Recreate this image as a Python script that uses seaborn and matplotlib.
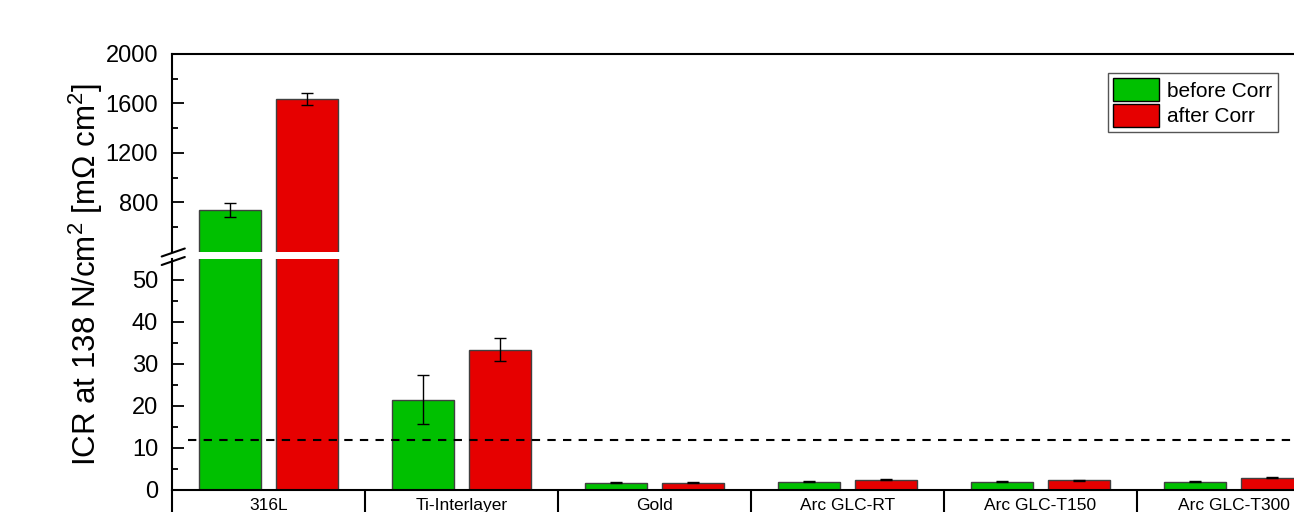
import matplotlib
matplotlib.use("Agg")
import matplotlib.pyplot as plt
import numpy as np
import pandas as pd
import seaborn as sns
from matplotlib.lines import Line2D
from matplotlib.patches import Patch

# ICR values (mOhm cm^2) at 138 N/cm^2 with standard deviations
categories = ["316L", "Ti-Interlayer", "Gold", "Arc GLC-RT", "Arc GLC-T150", "Arc GLC-T300"]
series_labels = ["before Corr", "after Corr"]
before_corr = [738, 21.5, 1.75, 2.0, 2.0, 2.0]
before_err = [59, 5.9, 0.1, 0.05, 0.05, 0.05]
after_corr = [1636, 33.4, 1.75, 2.5, 2.3, 2.9]
after_err = [46, 2.8, 0.1, 0.1, 0.1, 0.1]
target_icr = 12  # target level drawn as dashed line

lower_ticks = [0, 10, 20, 30, 40, 50]
lower_minor = [5, 15, 25, 35, 45]
upper_ticks = [800, 1200, 1600, 2000]
upper_minor = [600, 1000, 1400, 1800]

palette = {"before Corr": "#00C000", "after Corr": "#E60000"}

df = pd.DataFrame({
    "category": categories * 2,
    "series": [series_labels[0]] * len(categories) + [series_labels[1]] * len(categories),
    "icr": before_corr + after_corr,
    "err": before_err + after_err,
})

sns.set_style("white")
plt.rcParams["font.family"] = ["Liberation Sans", "DejaVu Sans"]
plt.rcParams["mathtext.fontset"] = "custom"
plt.rcParams["mathtext.rm"] = "Liberation Sans"
plt.rcParams["mathtext.it"] = "Liberation Sans:italic"
plt.rcParams["text.color"] = "black"
plt.rcParams["xtick.color"] = "black"
plt.rcParams["ytick.color"] = "black"

W, H = 1294, 512
fig = plt.figure(figsize=(W / 100, H / 100), dpi=100)
left = 172 / W
width = 6 * 193 / W
ax_low = fig.add_axes([left, (H - 490) / H, width, 231 / H])
ax_up = fig.add_axes([left, (H - 251.7) / H, width, 197.7 / H])

for ax in (ax_low, ax_up):
    sns.barplot(data=df, x="category", y="icr", hue="series", order=categories,
                hue_order=series_labels, palette=palette, saturation=1, gap=0.2,
                errorbar=None, edgecolor="#404040", linewidth=1, legend=False,
                ax=ax, zorder=2)
    for cont, lab in zip(ax.containers, series_labels):
        sub = df[df["series"] == lab].set_index("category").loc[categories]
        xs = [b.get_x() + b.get_width() / 2 for b in cont]
        ax.errorbar(xs, sub["icr"], yerr=sub["err"], fmt="none", ecolor="black",
                    elinewidth=1, capsize=4.5, capthick=1, zorder=3)
    ax.set_xlim(-0.5, len(categories) - 0.5)
    ax.set_xlabel("")
    ax.set_ylabel("")
    ax.spines["right"].set_visible(False)
    for s in ax.spines.values():
        s.set_linewidth(1.5)
        s.set_color("black")
    ax.tick_params(axis="y", which="major", left=True, direction="in", length=8.5,
                   width=1.3, labelsize=17, pad=10)
    ax.tick_params(axis="y", which="minor", left=True, direction="in", length=4.3,
                   width=1.3)

# lower panel
ax_low.set_ylim(0, 55)
ax_low.set_yticks(lower_ticks)
ax_low.set_yticks(lower_minor, minor=True)
ax_low.spines["top"].set_visible(False)
ax_low.set_xticks(np.arange(len(categories)))
ax_low.set_xticklabels(categories)
ax_low.set_xticks(np.arange(len(categories) + 1) - 0.5, minor=True)
ax_low.tick_params(axis="x", which="major", bottom=True, length=0, labelsize=12.5, pad=6)
ax_low.tick_params(axis="x", which="minor", bottom=True, direction="out", length=30,
                   width=1.5)
ax_low.axhline(target_icr, xmin=16 / 1158, color="black", lw=1.5,
               dashes=(4, 3.5), zorder=4)

# upper panel
ax_up.set_ylim(400, 2000)
ax_up.set_yticks(upper_ticks)
ax_up.set_yticks(upper_minor, minor=True)
ax_up.spines["bottom"].set_visible(False)
ax_up.tick_params(axis="x", which="both", bottom=False, labelbottom=False)

# axis-break marks
for dy in (0, 8.5):
    fig.add_artist(Line2D([161.7 / W, 184.8 / W],
                          [(H - 256.5 - dy) / H, (H - 248.5 - dy) / H],
                          color="black", lw=1.5))

fig.text(0.066, (H - 274.5) / H, r"ICR at 138 N/cm$^2$ [m$\Omega$ cm$^2$]",
         rotation=90, ha="center", va="center", fontsize=22.5)

handles = [Patch(facecolor=palette[l], edgecolor="black", linewidth=1) for l in series_labels]
leg = ax_up.legend(handles, series_labels, loc="upper left",
                   bbox_to_anchor=(1108 / W, (H - 73) / H), bbox_transform=fig.transFigure,
                   fontsize=15, frameon=True, fancybox=False, framealpha=1,
                   edgecolor="#555555", handlelength=2.2, handleheight=1.3,
                   handletextpad=0.4, labelspacing=0.15, borderpad=0.25, borderaxespad=0)
leg.get_frame().set_linewidth(1)

fig.savefig("out.png", dpi=100)
